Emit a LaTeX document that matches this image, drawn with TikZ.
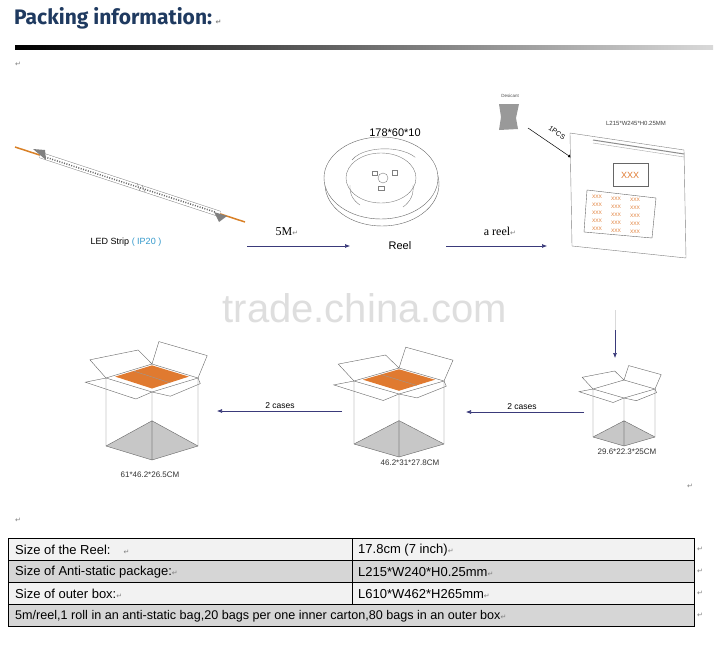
\documentclass[tikz,border=0pt]{standalone}
\usepackage{fontspec}
\setmainfont{Liberation Sans}
\newfontfamily\dv{DejaVu Sans}
\newfontfamily\serif{Liberation Serif}
\newfontfamily\fira{Fira Sans}
\usetikzlibrary{arrows.meta,shadings}
\definecolor{navy}{HTML}{1F3A60}
\definecolor{arr}{HTML}{3A3A7A}
\definecolor{orng}{HTML}{E07A30}
\definecolor{ipb}{HTML}{3399CC}
\tikzset{
 ret/.style={font=\dv\fontsize{7}{7}\selectfont,text=gray},
 flow/.style={draw=arr,line width=0.6pt,-{Latex[length=5pt,width=4pt]}},
 boxcap/.style={font=\fontsize{8}{9}\selectfont,text=black!80},
 cell/.style={font=\fontsize{13}{14}\selectfont,anchor=west,inner sep=0pt},
 boxl/.style={draw=black!60,line width=0.4pt},
 pics/openbox/.style n args={4}{code={
   \coordinate (L) at (-#1,0); \coordinate (R) at (#1,0);
   \coordinate (F) at (0,#2); \coordinate (B) at (0,-#2);
   \fill[black!22] (-#1,#3) -- (0,#3-#2*1.8) -- (#1,#3) -- (0,#3+#2) -- cycle;
   \draw[boxl] (-#1,#3) -- (0,#3-#2*1.8) -- (#1,#3) (0,#3-#2*1.8) -- (0,#3+#2);
   \draw[boxl] (L) -- (-#1,#3) -- (0,#3+#2) -- (#1,#3) -- (R) (F) -- (0,#3+#2);
   \ifnum#4=1 \fill[orng] (-#1*0.8,-#2*0.1) -- (0,-#2*0.9) -- (#1*0.8,-#2*0.1) -- (0,#2*0.75) -- cycle;
     \draw[black!40] (-#1*0.4,-#2*0.5) -- (#1*0.4,#2*0.35); \fi
   \draw[boxl] (L) -- (B) -- (R) -- (F) -- cycle;
   \draw[boxl] (L) -- (-#1*1.35,-#2*1.3) -- (-#1*0.3,-#2*2) -- (B);
   \draw[boxl] (B) -- (#1*0.15,-#2*2.6) -- (#1*1.2,-#2*1.6) -- (R);
   \draw[boxl] (L) -- (-#1*1.45,#2*0.3) -- (-#1*0.35,#2*1.5) -- (F);
   \draw[boxl] (F) -- (#1*0.4,#2*1.3) -- (#1*1.05,#2*0.4) -- (R);
 }}
}
\begin{document}
\begin{tikzpicture}[x=1pt,y=-1pt]
\useasboundingbox (0,0) rectangle (726,645);
\fill[white] (0,0) rectangle (726,645);
\node[font=\fontsize{40}{40}\selectfont,text=black!13] (wm) at (365,308) {trade.china.com};
\node[anchor=west,inner sep=0pt,font=\fira\bfseries\fontsize{21}{21}\selectfont,text=navy] (title) at (14,18) {Packing information:\,{\dv\fontsize{7}{7}\selectfont\color{gray}↵}};
\shade[left color=black,right color=black!15] (15,45.5) rectangle (713,49);
\node[ret] (r1) at (18,64) {↵};
% LED strip
\draw[line width=1.5pt,brown!60!orange] (15,147) -- (245,222);
\draw[line width=6pt,black!45] (40,155) -- (220,214);
\draw[line width=5pt,white] (40,155) -- (220,214);
\draw[line width=1.5pt,dash pattern=on 1pt off 1.5pt,black!60] (45,157) -- (215,212);
\draw[black!50] (137,183) -- (140,191) (142,185) -- (145,192);
\fill[gray] (33,149) -- (46,160) -- (45,150) -- cycle;
\fill[gray] (227,216) -- (214,212) -- (219,222) -- cycle;
\node[font=\fontsize{9}{9}\selectfont] (led) at (126,242) {LED Strip {\color{ipb}( IP20 )}};
\coordinate (a1s) at (247,246); \coordinate (a1e) at (350,246);
\draw[flow] (a1s) -- (a1e);
\node[font=\serif\fontsize{12}{12}\selectfont] (m5) at (287,232) {5M{\dv\fontsize{7}{7}\selectfont\color{gray}↵}};
% reel
\node[font=\fontsize{11}{11}\selectfont] (rdim) at (395,133) {178*60*10};
\draw[black!60,fill=white] (382,184) ellipse [x radius=57,y radius=42];
\draw[black!60,fill=white] (381,178) ellipse [x radius=57,y radius=41];
\draw[black!50] (381,178) ellipse [x radius=35,y radius=25];
\draw[black!50] (352,160) arc[start angle=200,end angle=330,x radius=35,y radius=17];
\draw[black!50] (350,185) to[bend right=30] (360,205);
\draw[black!50] (403,207) to[bend right=30] (413,185);
\draw[black!50] (383,178) circle [radius=5];
\draw[black!50] (372,171) rectangle (377,175) (392,170) rectangle (397,175) (378,186) rectangle (384,190);
\node[font=\fontsize{11}{11}\selectfont] (reel) at (400,246) {Reel};
\coordinate (a2s) at (446,246); \coordinate (a2e) at (547,246);
\draw[flow] (a2s) -- (a2e);
\node[font=\serif\fontsize{12}{12}\selectfont] (areel) at (500,231) {a reel{\dv\fontsize{7}{7}\selectfont\color{gray}↵}};
% desiccant
\node[font=\fontsize{4.5}{5}\selectfont,text=black!70] (des) at (510,96) {Desicant};
\fill[gray!80] (499,104) -- (519,104) -- (516,118) -- (518,129) -- (499,130) -- (501,117) -- cycle;
\coordinate (d1) at (528,128); \coordinate (d2) at (572,158);
\draw[black,line width=0.5pt,-{Latex[length=4pt,width=3pt]}] (d1) -- (d2);
\node[font=\fontsize{7}{7}\selectfont,rotate=-35] (pcs) at (557,133) {1PCS};
% bag
\node[font=\fontsize{6}{6}\selectfont,text=black!75] (bagl) at (636,123) {L215*W245*H0.25MM};
\draw[black!50,fill=white] (570,133) -- (684,150) -- (686,258) -- (572,246) -- cycle;
\draw[black!45,line width=1pt] (593,140) -- (684,154);
\draw[black!35] (593,143) -- (684,157);
\draw[black!60,fill=white] (613,163) rectangle (648,186);
\node[font=\fontsize{9}{9}\selectfont,text=orng] (xxx) at (630,175) {XXX};
\draw[black!60,fill=white] (587,190) -- (656,198) -- (652,238) -- (584,232) -- cycle;
\foreach \i in {0,1,2,3,4}{\foreach \j in {0,1,2}{
  \node[font=\fontsize{5}{5}\selectfont,text=orng,inner sep=0pt] at (597+\j*19,197+\i*8+\j*1.5) {XXX};}}
\coordinate (v1) at (615,330); \coordinate (v2) at (615,358);
\draw[black!15,line width=1pt] (615,310) -- (615,335);
\draw[flow] (v1) -- (v2);
% boxes
\pic (bs) at (624,389) {openbox={31}{9}{48}{0}};
\node[boxcap] (bsl) at (627,452) {29.6*22.3*25CM};
\pic (bm) at (399,381) {openbox={45}{13}{63}{1}};
\node[boxcap] (bml) at (410,463) {46.2*31*27.8CM};
\pic (bl) at (152,378) {openbox={46}{14}{68}{1}};
\node[boxcap] (bll) at (150,475) {61*46.2*26.5CM};
\coordinate (c1s) at (584,412); \coordinate (c1e) at (466,412);
\draw[flow] (c1s) -- (c1e);
\node[font=\fontsize{8.5}{9}\selectfont] (c1) at (522,407) {2 cases};
\coordinate (c2s) at (342,411); \coordinate (c2e) at (217,411);
\draw[flow] (c2s) -- (c2e);
\node[font=\fontsize{8.5}{9}\selectfont] (c2) at (280,406) {2 cases};
\node[ret] (r2) at (690,486) {↵};
\node[ret] (r3) at (18,520) {↵};
% table
\fill[black!5] (8,538) rectangle (694,560);
\fill[black!16] (8,560) rectangle (694,582);
\fill[black!5] (8,582) rectangle (694,604);
\fill[black!16] (8,604) rectangle (694,626);
\draw[line width=0.8pt] (8,538) rectangle (694,626);
\draw[line width=0.8pt] (8,560) -- (694,560) (8,582) -- (694,582) (8,604) -- (694,604) (352,538) -- (352,604);
\node[cell] (t11) at (15,550) {Size of the Reel:\quad{\dv\fontsize{7}{7}\selectfont\color{gray}↵}};
\node[cell] (t12) at (358,550) {17.8cm (7 inch){\dv\fontsize{7}{7}\selectfont\color{gray}↵}};
\node[cell] (t21) at (15,572) {Size of Anti-static package:{\dv\fontsize{7}{7}\selectfont\color{gray}↵}};
\node[cell] (t22) at (358,572) {L215*W240*H0.25mm{\dv\fontsize{7}{7}\selectfont\color{gray}↵}};
\node[cell] (t31) at (15,594) {Size of outer box:{\dv\fontsize{7}{7}\selectfont\color{gray}↵}};
\node[cell] (t32) at (358,594) {L610*W462*H265mm{\dv\fontsize{7}{7}\selectfont\color{gray}↵}};
\node[cell,font=\fontsize{12.6}{14}\selectfont] (t41) at (15,616) {5m/reel,1 roll in an anti-static bag,20 bags per one inner carton,80 bags in an outer box{\dv\fontsize{7}{7}\selectfont\color{gray}↵}};
\foreach \y in {549,571,593,615} \node[ret] at (700,\y) {↵};
\end{tikzpicture}
\end{document}
